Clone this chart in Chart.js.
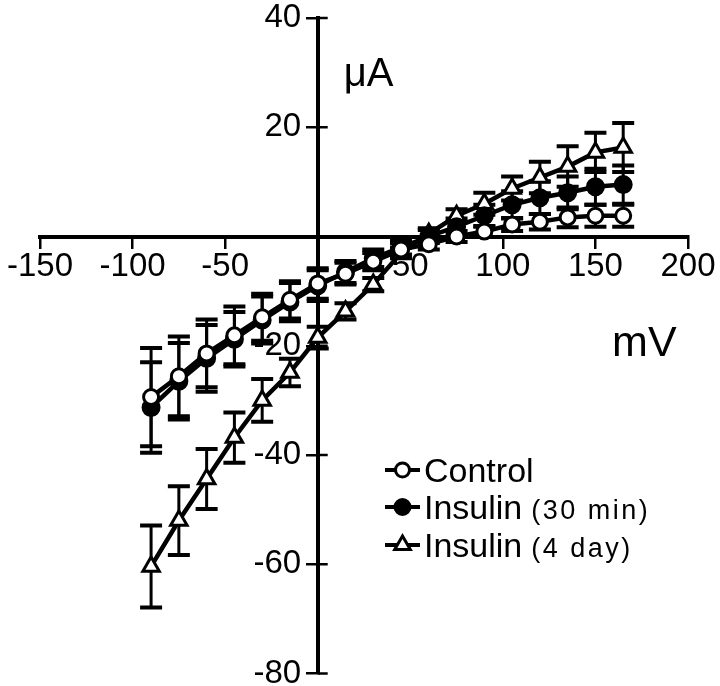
<!DOCTYPE html>
<html>
<head>
<meta charset="utf-8">
<script src="https://cdn.jsdelivr.net/npm/chart.js@4.4.0/dist/chart.umd.min.js"></script>
<style>
html,body{margin:0;padding:0;background:#fff;overflow:hidden}
#wrap{width:720px;height:686px;position:relative}
</style>
</head>
<body>
<div id="wrap"><canvas id="c" width="720" height="686"></canvas></div>
<script>
// ---- data ----
const voltages = [-90,-75,-60,-45,-30,-15,0,15,30,45,60,75,90,105,120,135,150,165];
const controlCurrent = [-29.4,-25.6,-21.4,-18.1,-14.8,-11.6,-8.6,-6.8,-4.6,-2.4,-1.4,0,0.9,2.2,2.7,3.5,3.8,3.8];
const controlError   = [9.0,7.3,6.2,5.3,4.3,3.4,2.8,2.0,1.6,1.2,1.0,1.0,1.0,1.2,1.4,1.8,2.0,2.0];
const insulin30Current = [-31.3,-26.5,-22.3,-18.8,-15.3,-12.0,-9.0,-6.5,-4.0,-2.0,0,1.8,3.8,5.8,7.1,8.0,9.1,9.5];
const insulin30Error   = [8.3,7.0,6.1,5.0,4.3,3.5,2.8,2.0,1.6,1.3,1.2,1.5,2.0,2.5,3.0,3.0,3.3,3.5];
const insulin4dCurrent = [-60.4,-52.0,-44.4,-36.8,-30.0,-24.9,-18.5,-13.7,-8.8,-3.0,0.5,3.8,6.0,8.8,10.8,12.8,15.4,16.3];
const insulin4dError   = [7.5,6.3,5.5,4.6,3.9,2.5,2.0,1.5,1.2,1.0,1.0,1.2,2.0,2.2,2.9,3.7,3.6,4.5];
const xTicks = [-150,-100,-50,0,50,100,150,200];
const yTicks = [-80,-60,-40,-20,0,20,40];
const seriesNames = ['Control','Insulin','Insulin'];
const seriesNotes = ['','(30 min)','(4 day)'];
const yUnit = 'μA';
const xUnit = 'mV';

const FONT = "'Liberation Sans', Arial, Helvetica, sans-serif";
const toPts = (ys) => voltages.map((v,i)=>({x:v,y:ys[i]}));

const styles = [
  {pointStyle:'circle', radius:7.5, fill:'#ffffff'},
  {pointStyle:'circle', radius:8, fill:'#000000'},
  {pointStyle:'triangle', radius:9.5, fill:'#ffffff'}
];

const errorBars = {
  id:'errorBars',
  beforeDatasetsDraw(chart){
    const {ctx, scales:{x,y}} = chart;
    ctx.save();
    ctx.strokeStyle = '#000';
    // inner half of y ticks (crossing the axis)
    const ax = x.getPixelForValue(0);
    ctx.lineWidth = 2.5;
    yTicks.forEach(v=>{
      if (v===0) return;
      const py = y.getPixelForValue(v);
      ctx.beginPath(); ctx.moveTo(ax, py); ctx.lineTo(ax+10, py); ctx.stroke();
    });
    chart.data.datasets.forEach((ds)=>{
      ds.data.forEach((p,j)=>{
        const e = ds.errors[j];
        const px = x.getPixelForValue(p.x);
        const top = y.getPixelForValue(p.y + e);
        const bot = y.getPixelForValue(p.y - e);
        ctx.lineWidth = 3;
        ctx.beginPath(); ctx.moveTo(px, top); ctx.lineTo(px, bot); ctx.stroke();
        ctx.lineWidth = 4;
        ctx.beginPath();
        ctx.moveTo(px-11, top); ctx.lineTo(px+11, top);
        ctx.moveTo(px-11, bot); ctx.lineTo(px+11, bot);
        ctx.stroke();
      });
    });
    ctx.restore();
  }
};

const annotations = {
  id:'annotations',
  afterDraw(chart){
    const {ctx, scales:{x,y}} = chart;
    ctx.save();
    ctx.fillStyle = '#000';
    ctx.textBaseline = 'alphabetic';
    ctx.textAlign = 'left';
    ctx.font = '40px ' + FONT;
    ctx.fillText(yUnit, x.getPixelForValue(14), y.getPixelForValue(27.6));
    ctx.font = '43px ' + FONT;
    ctx.fillText(xUnit, x.getPixelForValue(159), y.getPixelForValue(-21.8));
    // legend
    const lx0 = 385, lx1 = 420, tx = 424;
    const rows = [470, 507, 545];
    rows.forEach((ry,i)=>{
      ctx.strokeStyle = '#000';
      ctx.lineWidth = 4;
      ctx.beginPath(); ctx.moveTo(lx0, ry); ctx.lineTo(lx1, ry); ctx.stroke();
      ctx.fillStyle = styles[i].fill;
      ctx.lineWidth = 3;
      Chart.helpers.drawPoint(ctx, {pointStyle:styles[i].pointStyle, radius:styles[i].radius-0.5, borderWidth:3, rotation:0}, (lx0+lx1)/2, ry);
      ctx.fillStyle = '#000';
      ctx.font = '34px ' + FONT;
      ctx.letterSpacing = '0px';
      const base = ry + 12;
      ctx.fillText(seriesNames[i], tx, base);
      if (seriesNotes[i]) {
        const w = ctx.measureText(seriesNames[i]).width + 9;
        ctx.font = '27px ' + FONT;
        ctx.letterSpacing = '2.5px';
        ctx.fillText(seriesNotes[i], tx + w, base);
        ctx.letterSpacing = '0px';
      }
    });
    ctx.restore();
  }
};

function mk(label, data, err, st){
  return {
    label, data: toPts(data), errors: err,
    showLine:true, borderColor:'#000', borderWidth:4.5,
    pointStyle: st.pointStyle, pointRadius: st.radius, pointHoverRadius: st.radius,
    pointBorderWidth:3, pointBorderColor:'#000', pointBackgroundColor: st.fill,
    backgroundColor: st.fill, tension:0
  };
}

new Chart(document.getElementById('c'), {
  type:'scatter',
  data:{datasets:[
    mk('Control', controlCurrent, controlError, styles[0]),
    mk('Insulin (30 min)', insulin30Current, insulin30Error, styles[1]),
    mk('Insulin (4 day)', insulin4dCurrent, insulin4dError, styles[2])
  ]},
  options:{
    responsive:false, animation:false, devicePixelRatio:1,
    layout:{padding:{left:40, right:32, top:18, bottom:11}},
    plugins:{legend:{display:false}, tooltip:{enabled:false}},
    scales:{
      x:{
        type:'linear', min:-150, max:200, position:{y:0},
        afterBuildTicks:(s)=>{ s.ticks = xTicks.map(v=>({value:v})); },
        ticks:{color:'#000', padding:1, font:{family:FONT, size:33}, maxRotation:0,
               callback:(v)=> v===0 ? '' : String(v)},
        grid:{drawOnChartArea:false, drawTicks:true, tickLength:10, color:'#000', lineWidth:2.5},
        border:{display:true, color:'#000', width:4}
      },
      y:{
        type:'linear', min:-80, max:40, position:{x:0},
        afterBuildTicks:(s)=>{ s.ticks = yTicks.map(v=>({value:v})); },
        ticks:{color:'#000', padding:4, font:{family:FONT, size:33, lineHeight:0.5},
               // en-space keeps the right-aligned label clear of the centred axis and its tick
               callback:(v)=> v===0 ? '' : String(v) + '\u2002'},
        grid:{drawOnChartArea:false, drawTicks:true, tickLength:10, color:'#000', lineWidth:2.5},
        border:{display:true, color:'#000', width:4}
      }
    }
  },
  plugins:[errorBars, annotations]
});
</script>
</body>
</html>
